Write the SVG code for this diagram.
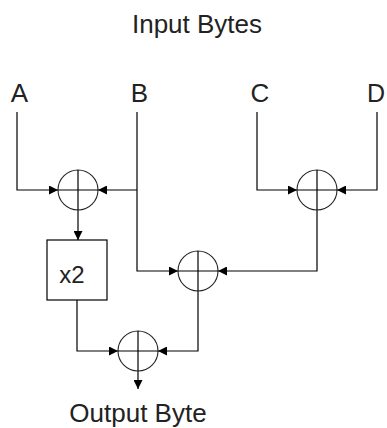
<svg xmlns="http://www.w3.org/2000/svg" width="387" height="428" viewBox="0 0 387 428">
<style>
.t{font-family:"Liberation Sans",Arial,sans-serif;font-size:26px;fill:#222;text-anchor:middle}
.w{fill:none;stroke:#000;stroke-width:1.2}
.x{fill:#fff;stroke:#222;stroke-width:1.1}
</style>
<defs>
<marker id="ah" viewBox="0 0 10 10" refX="10" refY="5" markerWidth="9" markerHeight="9" markerUnits="userSpaceOnUse" orient="auto">
<path d="M0,0 L10,5 L0,10 z" fill="#000"/>
</marker>
<g id="xor"><circle r="20" class="x"/><path d="M-20,0 H20 M0,-20 V20" class="w"/></g>
</defs>
<rect width="387" height="428" fill="#fff"/>
<text class="t" x="197" y="33">Input Bytes</text>
<g id="inA"><text class="t" x="19.5" y="102">A</text></g>
<g id="inB"><text class="t" x="139.5" y="102">B</text></g>
<g id="inC"><text class="t" x="260" y="102">C</text></g>
<g id="inD"><text class="t" x="385" y="102" style="text-anchor:end;font-size:25px">D</text></g>
<g id="connectors">
<path class="w" d="M17,112 V190 H58" marker-end="url(#ah)"/>
<path class="w" d="M137,112 V271 H178" marker-end="url(#ah)"/>
<path class="w" d="M137,190 H98" marker-end="url(#ah)"/>
<path class="w" d="M257,112 V190 H297" marker-end="url(#ah)"/>
<path class="w" d="M377,112 V190 H337" marker-end="url(#ah)"/>
<path class="w" d="M78,210 V240" marker-end="url(#ah)"/>
<path class="w" d="M77,300 V351 H118" marker-end="url(#ah)"/>
<path class="w" d="M317,210 V271 H218" marker-end="url(#ah)"/>
<path class="w" d="M198,291 V351 H158" marker-end="url(#ah)"/>
<path class="w" d="M138,371 V389" marker-end="url(#ah)"/>
</g>
<g id="xor1"><use href="#xor" x="78" y="190"/></g>
<g id="xor2"><use href="#xor" x="317" y="190"/></g>
<g id="xor3"><use href="#xor" x="198" y="271"/></g>
<g id="xor4"><use href="#xor" x="138" y="351"/></g>
<g id="mul"><rect x="47" y="240" width="60" height="60" fill="#fff" stroke="#000" stroke-width="1.2"/><text class="t" x="72" y="283" style="font-size:24px">x2</text></g>
<g id="out"><text class="t" x="138" y="422">Output Byte</text></g>
</svg>
